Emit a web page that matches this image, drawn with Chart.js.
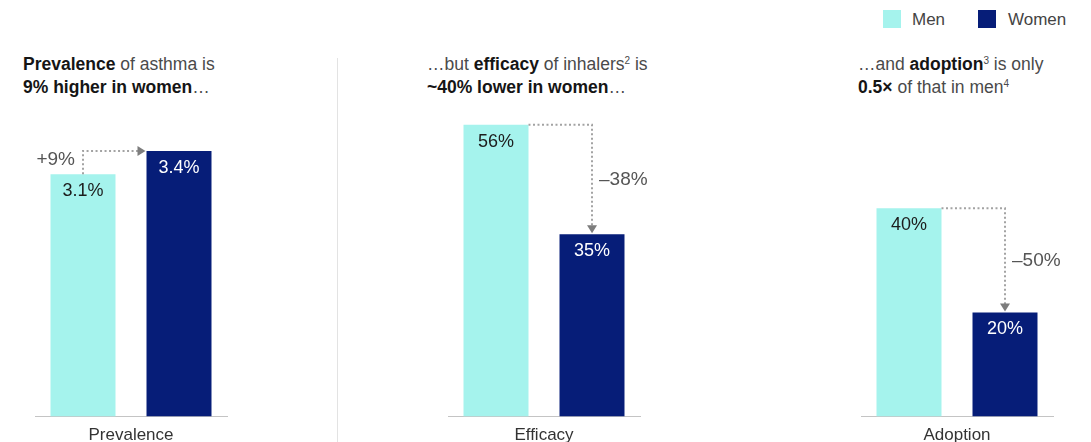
<!DOCTYPE html>
<html>
<head>
<meta charset="utf-8">
<script src="https://cdn.jsdelivr.net/npm/chart.js@4.4.1/dist/chart.umd.min.js"></script>
<style>
  html, body { margin: 0; padding: 0; background: #fff; }
  body { width: 1091px; height: 442px; position: relative; overflow: hidden;
         font-family: 'Liberation Sans', Arial, sans-serif; }
  .panel { position: absolute; top: 95px; }
  .head { position: absolute; top: 53px; font-size: 17.5px; line-height: 23px; color: #4a4a4a; white-space: nowrap; }
  .head b { color: #151515; }
  .head sup { font-size: 10px; line-height: 0; vertical-align: 6px; }
  .divider { position: absolute; left: 337px; top: 58px; width: 1px; height: 384px; background: #e3e3e3; }
  .legend { position: absolute; top: 10px; font-size: 17px; color: #444; line-height: 18px; }
  .swatch { position: absolute; top: 0; width: 18px; height: 18px; }
</style>
</head>
<body>

<div class="legend">
  <div class="swatch" style="left:883px;background:#a5f3ed"></div>
  <div style="position:absolute;left:912px;top:1px">Men</div>
  <div class="swatch" style="left:978px;background:#061d78"></div>
  <div style="position:absolute;left:1008px;top:1px">Women</div>
</div>

<div class="head" style="left:23px"><b>Prevalence</b> of asthma is<br><b>9% higher in women</b>…</div>
<div class="head" style="left:427px">…but <b>efficacy</b> of inhalers<sup>2</sup> is<br><b>~40% lower in women</b>…</div>
<div class="head" style="left:858px">…and <b>adoption</b><sup>3</sup> is only<br><b>0.5×</b> of that in men<sup>4</sup></div>

<div class="divider"></div>

<div class="panel" style="left:25px"><canvas id="c0" width="232" height="360"></canvas></div>
<div class="panel" style="left:438px"><canvas id="c1" width="232" height="360"></canvas></div>
<div class="panel" style="left:851px"><canvas id="c2" width="232" height="360"></canvas></div>

<script>
// values per panel, in %
const categories = ['Prevalence', 'Efficacy', 'Adoption'];
const menValues = [3.1, 56, 40];
const womenValues = [3.4, 35, 20];
const changeLabels = ['+9%', '–38%', '–50%'];
const axisMax = [4, 60, 60];

const MEN_COLOR = '#a5f3ed';
const WOMEN_COLOR = '#061d78';
const DOT_COLOR = '#a3a3a3';
const FONT = "'Liberation Sans', Arial, sans-serif";

Chart.defaults.font.family = FONT;
Chart.defaults.font.size = 17;

function arrowHead(ctx, x, y, dir) {
    ctx.beginPath();
    if (dir === 'right') {
        ctx.moveTo(x, y);
        ctx.lineTo(x - 8, y - 5);
        ctx.lineTo(x - 8, y + 5);
    } else {
        ctx.moveTo(x, y);
        ctx.lineTo(x - 5, y - 8);
        ctx.lineTo(x + 5, y - 8);
    }
    ctx.closePath();
    ctx.fill();
}

// value labels inside the bars plus the dotted change arrow
const annotatePlugin = {
    id: 'annotate',
    afterDatasetsDraw(chart, args, opts) {
        const ctx = chart.ctx;
        const men = chart.getDatasetMeta(0).data[0];
        const women = chart.getDatasetMeta(1).data[0];
        const vals = [chart.data.datasets[0].data[0], chart.data.datasets[1].data[0]];

        ctx.save();
        ctx.font = '18px ' + FONT;
        ctx.textAlign = 'center';
        ctx.textBaseline = 'middle';
        ctx.fillStyle = '#1c1c1c';
        ctx.fillText(vals[0] + '%', men.x, men.y + 17);
        ctx.fillStyle = '#ffffff';
        ctx.fillText(vals[1] + '%', women.x, women.y + 17);

        ctx.strokeStyle = DOT_COLOR;
        ctx.fillStyle = '#7d7d7d';
        ctx.lineWidth = 2;
        ctx.setLineDash([2, 2.5]);
        ctx.font = '19px ' + FONT;

        if (vals[1] > vals[0]) {
            const tipX = women.x - women.width / 2 - 1;
            ctx.beginPath();
            ctx.moveTo(men.x, men.y);
            ctx.lineTo(men.x, women.y);
            ctx.lineTo(tipX - 6, women.y);
            ctx.stroke();
            ctx.setLineDash([]);
            arrowHead(ctx, tipX, women.y, 'right');
            ctx.fillStyle = '#555';
            ctx.textAlign = 'right';
            ctx.fillText(opts.label, men.x - 8, (men.y + women.y) / 2 - 3);
        } else {
            const tipY = women.y - 1;
            ctx.beginPath();
            ctx.moveTo(men.x + men.width / 2, men.y);
            ctx.lineTo(women.x, men.y);
            ctx.lineTo(women.x, tipY - 6);
            ctx.stroke();
            ctx.setLineDash([]);
            arrowHead(ctx, women.x, tipY, 'down');
            ctx.fillStyle = '#555';
            ctx.textAlign = 'left';
            ctx.fillText(opts.label, women.x + 7, (men.y + women.y) / 2);
        }
        ctx.restore();
    }
};

categories.forEach((cat, i) => {
    new Chart(document.getElementById('c' + i), {
        type: 'bar',
        data: {
            labels: [cat],
            datasets: [
                { label: 'Men', data: [menValues[i]], backgroundColor: MEN_COLOR },
                { label: 'Women', data: [womenValues[i]], backgroundColor: WOMEN_COLOR }
            ]
        },
        options: {
            responsive: false,
            animation: false,
            devicePixelRatio: 1,
            layout: { padding: { left: 10, right: 30, top: 9, bottom: 0 } },
            datasets: { bar: { categoryPercentage: 1, barPercentage: 0.677 } },
            scales: {
                x: {
                    grid: { display: false, drawTicks: false },
                    border: { display: true, color: '#c4c4c4', width: 1 },
                    ticks: { color: '#333', padding: 9 }
                },
                y: { display: false, min: 0, max: axisMax[i] }
            },
            plugins: {
                legend: { display: false },
                tooltip: { enabled: false },
                annotate: { label: changeLabels[i] }
            }
        },
        plugins: [annotatePlugin]
    });
});
</script>
</body>
</html>
